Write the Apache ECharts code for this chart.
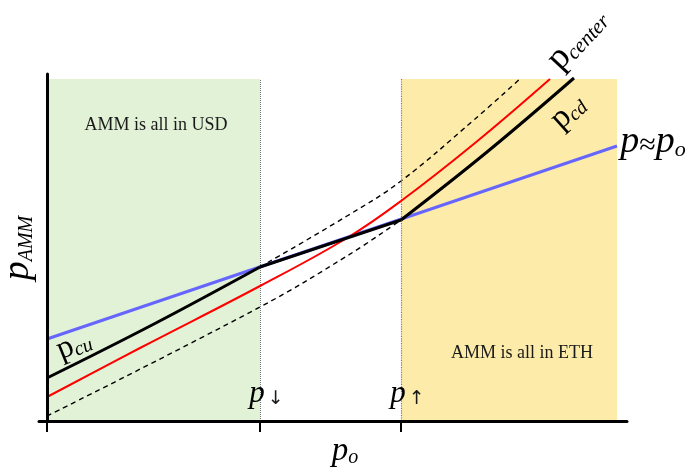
<!DOCTYPE html>
<html>
<head>
<meta charset="utf-8">
<script src="https://cdn.jsdelivr.net/npm/echarts@6/dist/echarts.min.js"></script>
<style>
  html, body { margin: 0; padding: 0; background: #fff; }
  #chart { width: 692px; height: 468px; }
</style>
</head>
<body>
<div id="chart"></div>
<script>
// Price of the AMM versus oracle price p_o (arbitrary units)
const tickValues = [0, 213, 354];          // origin, p_down, p_up
const tickNames = ['', '↓', '↑'];
const usdRange = [0, 213];                 // AMM holds only USD
const ethRange = [354, 570];               // AMM holds only ETH
const regionTop = 342;

const pOracle = [[0, 82], [570, 275]];                                   // p ≈ p_o
const pAmm = [[0, 43], [106, 96.5], [213, 154], [354, 201], [440, 269], [527, 343]]; // p_cu / p_cd
const pCenter = [[0, 24], [93, 73], [213, 135], [300, 183], [354, 220], [428, 278], [503, 342]];
const upperBand = [[213, 154], [300, 205], [354, 240], [428, 302], [474, 343]];
const lowerBand = [[0, 5], [213, 114], [300, 165], [354, 201]];

const SERIF = "'Liberation Serif', 'Times New Roman', serif";

const chart = echarts.init(document.getElementById('chart'), null, { renderer: 'canvas' });

// rich-text annotation placed in pixels, centred on (x, y), rotated by deg (CCW)
function note(x, y, deg, text, rich, extra) {
  return {
    type: 'text', x: x, y: y, rotation: deg * Math.PI / 180, z: 100,
    style: Object.assign({
      text: text, rich: rich, align: 'center', verticalAlign: 'middle',
      fill: '#000', fontFamily: SERIF
    }, extra || {})
  };
}
function mainTok(size, italic) {
  return { fontSize: size, lineHeight: size, fontStyle: italic ? 'italic' : 'normal', fontFamily: SERIF, fill: '#000', verticalAlign: 'middle' };
}
function subTok(size, italic, drop, mainSize) {
  return { fontSize: size, lineHeight: mainSize - 2 * drop, fontStyle: italic ? 'italic' : 'normal', fontFamily: SERIF, fill: '#000', verticalAlign: 'bottom' };
}

// the AMM price is piecewise: curved below p_down, straight between, curved above p_up
const ammStyle = { color: '#000', width: 3, join: 'round' };
function ammPiece(points, smooth) {
  return { name: 'p_AMM', type: 'line', data: points, z: 6, symbol: 'none', smooth: smooth, lineStyle: ammStyle };
}

const option = {
  animation: false,
  backgroundColor: '#fff',
  grid: { left: 39, right: 65, top: 74, bottom: 47 },
  xAxis: {
    type: 'value', min: -8, max: 580, z: 10,
    splitLine: { show: false },
    axisLine: { lineStyle: { color: '#000', width: 3 } },
    axisTick: { customValues: tickValues, length: 11, lineStyle: { color: '#000', width: 2 } },
    axisLabel: {
      customValues: tickValues.slice(1), inside: true, margin: 12,
      formatter: function (v) {
        const i = tickValues.indexOf(v);
        return '{p|p}{a|' + tickNames[i] + '}';
      },
      padding: [0, 0, 0, 13],
      rich: {
        p: { fontSize: 31, lineHeight: 31, fontStyle: 'italic', fontFamily: SERIF, color: '#000' },
        a: { fontSize: 19, lineHeight: 9, fontFamily: "'DejaVu Sans', sans-serif", color: '#1a1a1a', verticalAlign: 'bottom', padding: [0, 0, 0, 3] }
      }
    }
  },
  yAxis: {
    type: 'value', min: 0, max: 347, z: 10,
    splitLine: { show: false },
    axisLine: { onZero: true, lineStyle: { color: '#000', width: 3 } },
    axisTick: { show: false },
    axisLabel: { show: false }
  },
  series: [
    {
      name: 'regions', type: 'line', data: [], z: 1, silent: true,
      markArea: {
        silent: true,
        data: [
          [{ coord: [usdRange[0], 0], itemStyle: { color: '#e2f2d6' } }, { coord: [usdRange[1], regionTop] }],
          [{ coord: [ethRange[0], 0], itemStyle: { color: '#fdeba9' } }, { coord: [ethRange[1], regionTop] }]
        ]
      },
      markLine: {
        silent: true, symbol: 'none', label: { show: false },
        data: [
          [{ coord: [usdRange[1], 0], lineStyle: { color: '#777', type: 'dotted', width: 1 } }, { coord: [usdRange[1], regionTop] }],
          [{ coord: [ethRange[0], 0], lineStyle: { color: '#8c7c4c', type: 'dotted', width: 1.2 } }, { coord: [ethRange[0], regionTop] }]
        ]
      }
    },
    {
      name: 'upper', type: 'line', data: upperBand, z: 3, symbol: 'none', smooth: 0.4,
      lineStyle: { color: '#000', width: 1.4, type: [5, 4] }
    },
    {
      name: 'lower', type: 'line', data: lowerBand, z: 3, symbol: 'none', smooth: 0.4,
      lineStyle: { color: '#000', width: 1.4, type: [5, 4] }
    },
    {
      name: 'p≈p_o', type: 'line', data: pOracle, z: 4, symbol: 'none',
      lineStyle: { color: '#6666ff', width: 3 }
    },
    {
      name: 'p_center', type: 'line', data: pCenter, z: 5, symbol: 'none', smooth: 0.4,
      lineStyle: { color: '#ff0000', width: 2 }
    },
    ammPiece(pAmm.slice(0, 3), 0.4),
    ammPiece(pAmm.slice(2, 4), false),
    ammPiece(pAmm.slice(3), 0.4)
  ],
  graphic: [
    note(156, 125, 0, 'AMM is all in USD', null, { fontSize: 18, fill: '#1a1a1a' }),
    note(522, 353, 0, 'AMM is all in ETH', null, { fontSize: 18, fill: '#1a1a1a' }),
    note(345, 451, 0, '{p|p}{s|o}', { p: mainTok(33, true), s: subTok(20, true, 10, 33) }),
    note(18, 248, 90, '{p|p}{s|AMM}', { p: mainTok(38, true), s: subTok(20, true, 12, 38) }),
    note(653, 142, 0, '{p|p}{e|≈}{p|p}{s|o}', { p: mainTok(38, true), e: subTok(30, false, 4, 38), s: subTok(22, true, 12, 38) }),
    note(74, 345, 22, '{p|p}{s|cu}', { p: mainTok(32, false), s: subTok(20, true, 8, 32) }),
    note(568, 112, 42, '{p|p}{s|cd}', { p: mainTok(33, false), s: subTok(20, true, 8, 33) }),
    note(577, 39, 47, '{p|p}{s|center}', { p: mainTok(36, false), s: subTok(21, true, 8, 36) })
  ]
};
chart.setOption(option);
</script>
</body>
</html>
